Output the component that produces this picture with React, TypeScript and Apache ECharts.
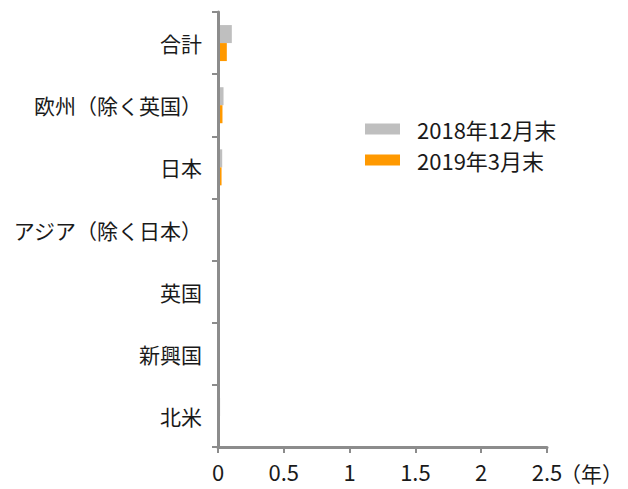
import React, { useEffect, useRef } from "react";
import * as echarts from "echarts";

const categories = ["合計", "欧州（除く英国）", "日本", "アジア（除く日本）", "英国", "新興国", "北米"];
const seriesNames = ["2018年12月末", "2019年3月末"];
const dec2018 = [0.105, 0.042, 0.032, 0, 0, 0, 0.016];
const mar2019 = [0.067, 0.034, 0.027, 0, 0, 0, 0];
const xTicks = { min: 0, max: 2.5, interval: 0.5 };
const unitLabel = "（年）";

const FONT = "'Noto Sans CJK JP', 'Noto Sans', sans-serif";

export default function App() {
  const ref = useRef<HTMLDivElement>(null);
  useEffect(() => {
    if (!ref.current) return;
    const chart = echarts.init(ref.current, null, { renderer: "svg" });
    chart.setOption({
      animation: false,
      textStyle: { fontFamily: FONT },
      grid: { left: 218, right: 81, top: 12, bottom: 42, containLabel: false },
      legend: {
        orient: "vertical",
        left: 365,
        top: 118,
        padding: 0,
        itemWidth: 35,
        itemHeight: 11,
        itemGap: 9,
        icon: "rect",
        textStyle: { fontSize: 22, color: "#1a1a1a", fontFamily: FONT, padding: [0, 0, 0, 12] },
        data: seriesNames,
      },
      xAxis: {
        type: "value",
        min: xTicks.min,
        max: xTicks.max,
        interval: xTicks.interval,
        axisLine: { show: true, lineStyle: { color: "#8c8c8c", width: 3 } },
        axisTick: { show: true, length: 6, lineStyle: { color: "#8c8c8c", width: 2 } },
        splitLine: { show: false },
        axisLabel: { fontSize: 22, color: "#1a1a1a", margin: 13, fontFamily: FONT },
        z: 5,
      },
      yAxis: {
        type: "category",
        inverse: true,
        data: categories,
        axisLine: { show: true, lineStyle: { color: "#8c8c8c", width: 3 } },
        axisTick: { show: true, length: 6, lineStyle: { color: "#8c8c8c", width: 2 } },
        axisLabel: { fontSize: 21, color: "#1a1a1a", margin: 16, fontFamily: FONT },
        z: 5,
      },
      series: [
        {
          name: seriesNames[0],
          type: "bar",
          data: dec2018,
          barWidth: 18,
          barGap: "0%",
          itemStyle: { color: "#bfbfbf" },
          z: 2,
        },
        {
          name: seriesNames[1],
          type: "bar",
          data: mar2019,
          barWidth: 18,
          barGap: "0%",
          itemStyle: { color: "#ff9900" },
          z: 2,
        },
      ],
      graphic: [
        {
          type: "text",
          left: 560,
          top: 462,
          style: { text: unitLabel, fontSize: 21, fill: "#1a1a1a", fontFamily: FONT },
        },
      ],
    });
    return () => chart.dispose();
  }, []);
  return <div ref={ref} style={{ width: 628, height: 489, position: "absolute", left: 0, top: 0 }} />;
}
